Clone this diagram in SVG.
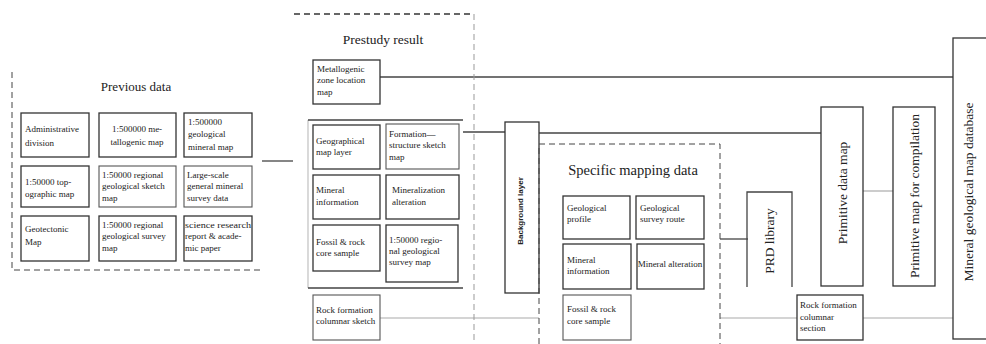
<svg xmlns="http://www.w3.org/2000/svg" width="986" height="344" viewBox="0 0 986 344">
<style>
text{font-family:"Liberation Serif","Times New Roman",serif;fill:#222}
.t{font-size:9px}
.h{font-size:13px}
.s{font-family:"Liberation Sans",Arial,sans-serif;font-weight:bold;font-size:8px}
.b{fill:#fff;stroke:#333;stroke-width:1.3}
.bl{fill:#fff;stroke:#555;stroke-width:1.1}
.d{fill:none;stroke:#444;stroke-width:1;stroke-dasharray:6,4}
.dl{fill:none;stroke:#999;stroke-width:1;stroke-dasharray:6,4}
.c{fill:none;stroke:#444;stroke-width:1.3}
.cl{fill:none;stroke:#aaa;stroke-width:1.2}
</style>
<rect width="986" height="344" fill="#fff"/>
<g id="connectors">
<path class="c" d="M262,161H293"/>
<path class="c" d="M380,77H953"/>
<path class="c" d="M463,132H505"/>
<path class="c" d="M539,133H821"/>
<path class="c" d="M720,239H748"/>
<path class="cl" d="M863,191H893"/>
<path class="cl" d="M380,318H539M720,318H797M863,318H953"/>
</g>
<g id="previous-data">
<path class="d" d="M12,72V270H263"/>
<text class="h" x="136" y="91" text-anchor="middle">Previous data</text>
</g>
<g id="prev-admin"><rect class="b" x="21" y="113" width="68" height="44"/><text class="t" x="25" y="132">Administrative</text><text class="t" x="25" y="146">division</text></g>
<g id="prev-metallogenic"><rect class="b" x="99" y="113" width="77" height="44"/><text class="t" text-anchor="middle" x="137" y="132">1:500000 me-</text><text class="t" text-anchor="middle" x="137" y="145">tallogenic map</text></g>
<g id="prev-geomineral"><rect class="b" x="184" y="113" width="68" height="44"/><text class="t" x="188" y="125">1:500000</text><text class="t" x="188" y="137">geological</text><text class="t" x="188" y="150">mineral map</text></g>
<g id="prev-topo"><rect class="b" x="21" y="166" width="68" height="41"/><text class="t" x="25" y="185">1:50000 top-</text><text class="t" x="25" y="197">ographic map</text></g>
<g id="prev-sketch"><rect class="bl" x="99" y="166" width="77" height="41"/><text class="t" x="102" y="178">1:50000 regional</text><text class="t" x="102" y="189">geological sketch</text><text class="t" x="102" y="201">map</text></g>
<g id="prev-largescale"><rect class="bl" x="184" y="166" width="68" height="41"/><text class="t" x="187" y="178">Large-scale</text><text class="t" x="187" y="189">general mineral</text><text class="t" x="187" y="201">survey data</text></g>
<g id="prev-geotectonic"><rect class="b" x="21" y="216" width="68" height="45"/><text class="t" x="25" y="232">Geotectonic</text><text class="t" x="25" y="245">Map</text></g>
<g id="prev-survey"><rect class="b" x="99" y="216" width="77" height="45"/><text class="t" x="102" y="228">1:50000 regional</text><text class="t" x="102" y="239">geological survey</text><text class="t" x="102" y="251">map</text></g>
<g id="prev-science"><rect class="b" x="184" y="216" width="68" height="45"/><text class="t" x="185" y="228" textLength="66" lengthAdjust="spacingAndGlyphs">science research</text><text class="t" x="185" y="239">report &amp; acade-</text><text class="t" x="185" y="251">mic paper</text></g>
<g id="prestudy-result">
<path class="dl" d="M294,14H474V344"/>
<path class="c" d="M294,14H474" stroke-dasharray="6,4"/>
<text font-size="13.5" x="383" y="44" text-anchor="middle">Prestudy result</text>
<path fill="none" stroke="#bbb" stroke-width="1.1" d="M308,120V288"/>
<path class="c" d="M308,120H463M308,288H463"/>
</g>
<g id="pre-metallogenic"><rect class="b" x="313" y="60" width="67" height="44"/><text class="t" x="317" y="72">Metallogenic</text><text class="t" x="317" y="83">zone location</text><text class="t" x="317" y="95">map</text></g>
<g id="pre-geo-layer"><rect class="b" x="313" y="125" width="67" height="44"/><text class="t" x="316" y="144">Geographical</text><text class="t" x="316" y="155">map layer</text></g>
<g id="pre-formation"><rect class="bl" x="386" y="124" width="73" height="45"/><text class="t" x="389" y="137">Formation—</text><text class="t" x="389" y="148">structure sketch</text><text class="t" x="389" y="160">map</text></g>
<g id="pre-mineral-info"><rect class="b" x="313" y="175" width="67" height="44"/><text class="t" x="316" y="193">Mineral</text><text class="t" x="316" y="205">information</text></g>
<g id="pre-mineralization"><rect class="b" x="386" y="175" width="73" height="44"/><text class="t" x="392" y="193">Mineralization</text><text class="t" x="392" y="205">alteration</text></g>
<g id="pre-fossil"><rect class="b" x="313" y="225" width="67" height="46"/><text class="t" x="316" y="245">Fossil &amp; rock</text><text class="t" x="316" y="256">core sample</text></g>
<g id="pre-survey"><rect class="b" x="386" y="225" width="72" height="57"/><text class="t" x="389" y="243">1:50000 regio-</text><text class="t" x="389" y="254">nal geological</text><text class="t" x="389" y="265">survey map</text></g>
<g id="pre-rock-formation"><rect class="bl" x="313" y="295" width="67" height="45"/><text class="t" x="316" y="313">Rock formation</text><text class="t" x="316" y="324">columnar sketch</text></g>
<g id="background-layer"><rect class="b" x="505" y="122" width="34" height="171"/><text class="s" x="0" y="0" text-anchor="middle" transform="translate(523,211) rotate(-90)">Background layer</text></g>
<g id="specific-mapping-data">
<path class="d" d="M539,344V144H720V344"/>
<text font-size="14.5" x="633" y="175" text-anchor="middle">Specific mapping data</text>
</g>
<g id="spec-profile"><rect class="b" x="563" y="196" width="67" height="43"/><text class="t" x="567" y="211">Geological</text><text class="t" x="567" y="222">profile</text></g>
<g id="spec-route"><rect class="b" x="636" y="196" width="68" height="43"/><text class="t" x="640" y="211">Geological</text><text class="t" x="640" y="222">survey route</text></g>
<g id="spec-mineral-info"><rect class="b" x="563" y="244" width="68" height="45"/><text class="t" x="567" y="263">Mineral</text><text class="t" x="567" y="274">information</text></g>
<g id="spec-alteration"><rect class="b" x="637" y="244" width="67" height="45"/><text class="t" x="670" y="267" text-anchor="middle">Mineral alteration</text></g>
<g id="spec-fossil"><rect class="bl" x="563" y="295" width="68" height="45"/><text class="t" x="567" y="312">Fossil &amp; rock</text><text class="t" x="567" y="324">core sample</text></g>
<g id="prd-library"><path class="c" fill="#fff" d="M747,287V192H792V287"/><text font-size="13.5" x="0" y="0" text-anchor="middle" transform="translate(774,241) rotate(-90)">PRD library</text></g>
<g id="primitive-data-map"><rect class="b" x="821" y="107" width="42" height="179"/><text font-size="13.5" x="0" y="0" text-anchor="middle" transform="translate(847,193) rotate(-90)">Primitive data map</text></g>
<g id="primitive-map-compilation"><rect class="b" x="893" y="107" width="42" height="179" stroke="#666"/><text font-size="13.5" x="0" y="0" text-anchor="middle" transform="translate(919,196) rotate(-90)">Primitive map for compilation</text></g>
<g id="rock-formation-section"><rect class="b" x="797" y="295" width="66" height="45"/><text class="t" x="800" y="308">Rock formation</text><text class="t" x="800" y="320">columnar</text><text class="t" x="800" y="331">section</text></g>
<g id="database"><rect class="b" x="953" y="38" width="40" height="301"/><text font-size="13.5" x="0" y="0" text-anchor="middle" transform="translate(973,192) rotate(-90)">Mineral geological map database</text></g>
</svg>
